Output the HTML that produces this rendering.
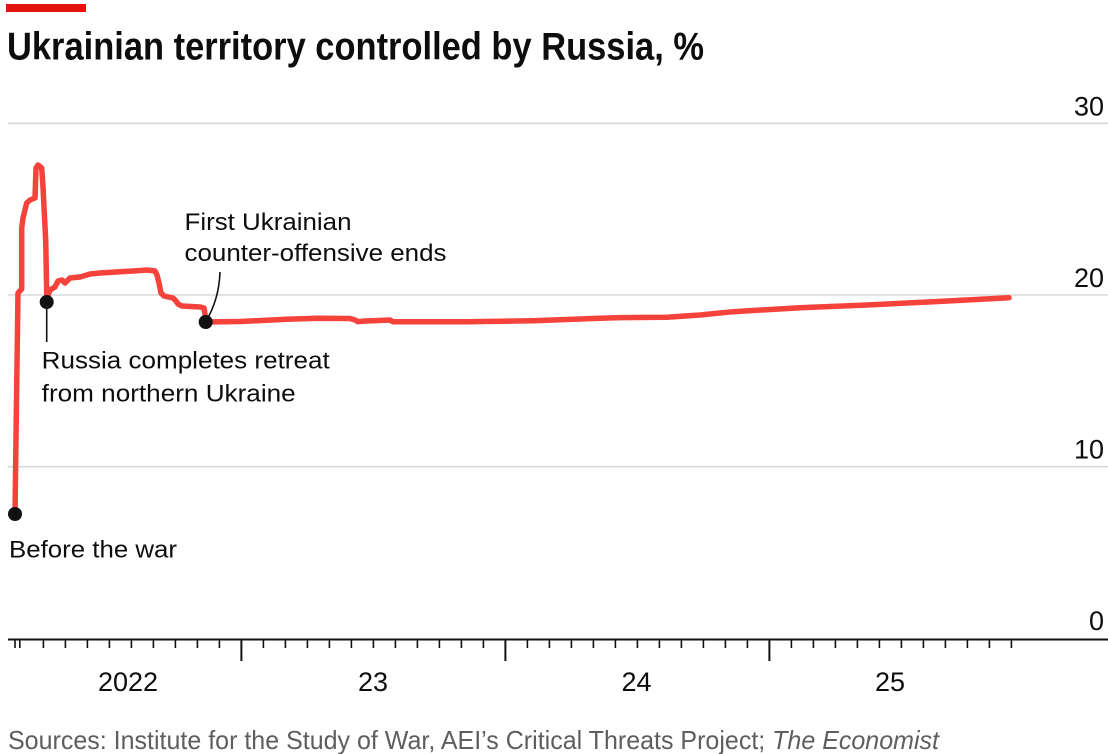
<!DOCTYPE html>
<html>
<head>
<meta charset="utf-8">
<style>
  html,body{margin:0;padding:0;background:#fff;}
  svg{display:block;}
  text{font-family:"Liberation Sans", Arial, sans-serif;}
</style>
</head>
<body>
<svg width="1108" height="754" viewBox="0 0 1108 754" xmlns="http://www.w3.org/2000/svg">
  <rect x="0" y="0" width="1108" height="754" fill="#fff"/>
  <rect x="6" y="4" width="80" height="8" fill="#e3120b"/>
  <text x="7" y="59.5" font-size="39" font-weight="bold" fill="#0d0d0d" textLength="697" lengthAdjust="spacingAndGlyphs">Ukrainian territory controlled by Russia, %</text>

  <g stroke="#d9d9d9" stroke-width="1.6">
    <line x1="8" y1="123.3" x2="1108" y2="123.3"/>
    <line x1="8" y1="295" x2="1108" y2="295"/>
    <line x1="8" y1="466.7" x2="1108" y2="466.7"/>
  </g>

  <g font-size="27" fill="#0d0d0d" text-anchor="end">
    <text x="1104" y="115.5">30</text>
    <text x="1104" y="287">20</text>
    <text x="1104" y="458.5">10</text>
    <text x="1104" y="630">0</text>
  </g>

  <line x1="8" y1="639.5" x2="1108" y2="639.5" stroke="#111" stroke-width="2"/>
  <path stroke="#111" stroke-width="1.6" fill="none" d="
    M15,640V648 M19.8,640V648 M43.4,640V648 M65.4,640V648 M87.4,640V648 M109.4,640V648
    M131.4,640V648 M153.4,640V648 M175.4,640V648 M197.4,640V648 M219.4,640V648
    M263.4,640V648 M285.4,640V648 M307.4,640V648 M329.4,640V648 M351.4,640V648 M373.4,640V648
    M395.4,640V648 M417.4,640V648 M439.4,640V648 M461.4,640V648 M483.4,640V648
    M527.4,640V648 M549.4,640V648 M571.4,640V648 M593.4,640V648 M615.4,640V648 M637.4,640V648
    M659.4,640V648 M681.4,640V648 M703.4,640V648 M725.4,640V648 M747.4,640V648
    M791.4,640V648 M813.4,640V648 M835.4,640V648 M857.4,640V648 M879.4,640V648 M901.4,640V648
    M923.4,640V648 M945.4,640V648 M967.4,640V648 M989.4,640V648 M1011.4,640V648"/>
  <path stroke="#111" stroke-width="2" fill="none" d="M241.4,640V661 M505.4,640V661 M769.4,640V661"/>

  <g font-size="27" fill="#0d0d0d" text-anchor="middle">
    <text x="128" y="691">2022</text>
    <text x="373" y="691">23</text>
    <text x="636.5" y="691">24</text>
    <text x="890" y="691">25</text>
  </g>

  <polyline fill="none" stroke="#f5423b" stroke-width="5.5" stroke-linejoin="round" stroke-linecap="round"
    points="15,514 16.5,400 18,293 21.7,289 21.7,228 23,218 26.7,203 30,200 35,198 36,168 38,165 41.7,168 43,187 44,207 45.7,240 46.7,293 47,298 50,290 55,287 58,281 62,280 65,283 70,278 80,277 90,274 100,273 133,271 147,270 155,271 157,275 159,283 161,293 164,296 173,298 176,301 178,304 182,306 200,307 204,308 205,314 205.5,322 240,321.5 287,319.3 317,318.3 350,318.5 355,320 358,321.7 365,321 373,320.7 390,320 393,321.7 467,321.7 533,320.7 600,318.3 620,317.6 667,317.3 700,315 733,311.7 800,307.7 867,305 933,301.7 1009,297.7"/>

  <line x1="46.7" y1="302" x2="46.7" y2="342" stroke="#111" stroke-width="1.6"/>
  <path d="M205.5,322 Q219,300 220,272" fill="none" stroke="#111" stroke-width="1.6"/>

  <g fill="#111">
    <circle cx="15" cy="514" r="7"/>
    <circle cx="46.7" cy="302" r="7"/>
    <circle cx="205.7" cy="322" r="7"/>
  </g>

  <g font-size="24" fill="#0d0d0d">
    <text x="184.5" y="230" textLength="167" lengthAdjust="spacingAndGlyphs">First Ukrainian</text>
    <text x="184.5" y="261" textLength="262" lengthAdjust="spacingAndGlyphs">counter-offensive ends</text>
    <text x="41.7" y="368.5" textLength="288" lengthAdjust="spacingAndGlyphs">Russia completes retreat</text>
    <text x="41.7" y="401.5" textLength="254" lengthAdjust="spacingAndGlyphs">from northern Ukraine</text>
    <text x="9" y="557.5" textLength="168" lengthAdjust="spacingAndGlyphs">Before the war</text>
  </g>

  <text x="8" y="749" font-size="26" fill="#5e5e5e" textLength="931" lengthAdjust="spacingAndGlyphs">Sources: Institute for the Study of War, AEI’s Critical Threats Project; <tspan font-style="italic">The Economist</tspan></text>
</svg>
</body>
</html>
